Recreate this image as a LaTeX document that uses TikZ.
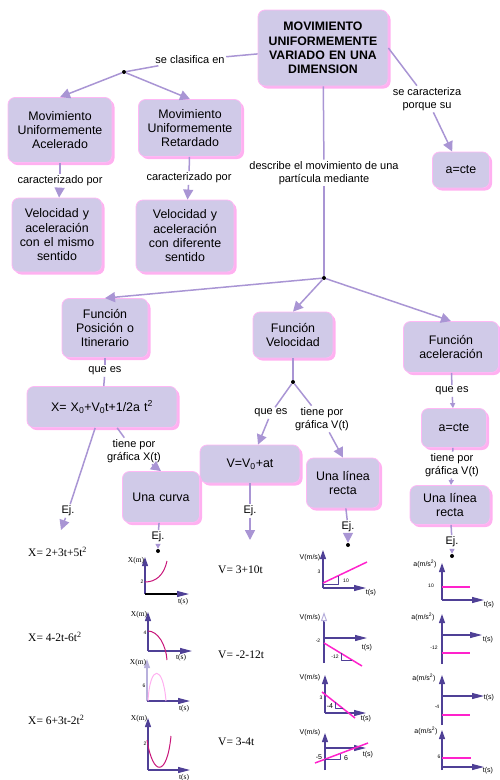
\documentclass[tikz,border=0pt]{standalone}
\usepackage{fontspec}
\setmainfont{Liberation Sans}
\newfontfamily\eqfont{Liberation Serif}
\usetikzlibrary{positioning, arrows.meta, shadows}

\definecolor{boxfill}{HTML}{D0CAE8}
\definecolor{pinkedge}{HTML}{FFB8F5}
\definecolor{pinkshadow}{HTML}{FFB0F0}
\definecolor{linkc}{HTML}{A995D4}
\definecolor{axisc}{HTML}{4F4096}
\definecolor{axislight}{HTML}{B8B0DC}
\definecolor{curvec}{HTML}{C8167A}
\definecolor{curvelight}{HTML}{FFB0F0}
\definecolor{magc}{HTML}{FF22CC}

\begin{document}
\begin{tikzpicture}[x=1pt, y=-1pt, line join=round]
    \tikzstyle{concept} = [rectangle, rounded corners=7pt, draw=pinkedge, line width=0.8pt, fill=boxfill, drop shadow={shadow xshift=2.5pt, shadow yshift=-2.5pt, fill=pinkshadow, opacity=1}, align=center, inner sep=2pt, font=\fontsize{12.4}{14.3}\selectfont]
    \tikzstyle{lbl} = [fill=white, inner sep=1.5pt, align=center, font=\fontsize{11}{13}\selectfont]
    \tikzstyle{conn} = [draw=linkc, line width=1.5pt]
    \tikzstyle{bigtip} = [-{Triangle[length=10pt, width=10pt]}]
    \tikzstyle{smalltip} = [-{Triangle[length=5pt, width=5pt]}]
    \tikzstyle{jdot} = [circle, fill=black, inner sep=0pt, minimum size=4pt]
    \tikzstyle{eq} = [anchor=west, inner sep=0pt, font=\eqfont\fontsize{11.5}{13}\selectfont]
    \tikzstyle{yax} = [draw=axisc, line width=1.2pt, -{Triangle[length=9pt, width=6pt]}]
    \tikzstyle{xax} = [draw=axisc, line width=1.2pt, -{Triangle[length=12pt, width=6pt]}]
    \tikzstyle{magline} = [draw=magc, line width=1.5pt]
    \tikzstyle{axlbl} = [inner sep=0pt, font=\fontsize{7}{8}\selectfont]
    \tikzstyle{axlbls} = [inner sep=0pt, font=\eqfont\fontsize{7.5}{8}\selectfont]
    \tikzstyle{tick} = [inner sep=0pt, font=\fontsize{5}{6}\selectfont]

    \useasboundingbox (0,0) rectangle (500,780);

    % Concepts (top)
    \node[concept, text width=126pt, minimum height=76pt, font=\bfseries\fontsize{12.3}{14.2}\selectfont] (main) at (323,48) {MOVIMIENTO\\UNIFORMEMENTE\\VARIADO EN UNA\\DIMENSION};
    \node[concept, text width=100pt, minimum height=65pt] (mua) at (60,130) {Movimiento\\Uniformemente\\Acelerado};
    \node[concept, text width=99pt, minimum height=57pt] (mur) at (190,128) {Movimiento\\Uniformemente\\Retardado};
    \node[concept, text width=53pt, minimum height=36pt] (acteA) at (461,170) {a=cte};
    \node[concept, text width=86pt, minimum height=74pt] (vya1) at (57,235) {Velocidad y\\aceleración\\con el mismo\\sentido};
    \node[concept, text width=94pt, minimum height=72pt] (vya2) at (185,236) {Velocidad y\\aceleración\\con diferente\\sentido};

    % Concepts (functions)
    \node[concept, text width=82pt, minimum height=59pt] (fpos) at (105,328) {Función\\Posición o\\Itinerario};
    \node[concept, text width=76pt, minimum height=46pt] (fvel) at (293,335) {Función\\Velocidad};
    \node[concept, text width=91pt, minimum height=51pt] (facel) at (451,347) {Función\\aceleración};
    \node[concept, text width=146pt, minimum height=41pt] (xeq) at (102,407) {X= X\textsubscript{0}+V\textsubscript{0}t+1/2a t\textsuperscript{2}};
    \node[concept, text width=96pt, minimum height=38pt] (vv0) at (250,464) {V=V\textsubscript{0}+at};
    \node[concept, text width=61pt, minimum height=39pt] (acteB) at (454,428) {a=cte};
    \node[concept, text width=73pt, minimum height=51pt] (curva) at (161,497) {Una curva};
    \node[concept, text width=69pt, minimum height=50pt] (recta1) at (343,483) {Una línea\\recta};
    \node[concept, text width=76pt, minimum height=39pt] (recta2) at (450,505) {Una línea\\recta};

    % Linking phrases
    \node[lbl] (lclas) at (190,60) {se clasifica en};
    \node[lbl] (lcarac) at (427,99) {se caracteriza\\porque su};
    \node[lbl] (ldesc) at (324,173) {describe el movimiento de una\\partícula mediante};
    \node[lbl] (lcar1) at (60,181) {caracterizado por};
    \node[lbl] (lcar2) at (189,178) {caracterizado por};
    \node[lbl] (lque1) at (105,371) {que es};
    \node[lbl] (ltiene1) at (134,451) {tiene por\\gráfica X(t)};
    \node[lbl] (lej1) at (68,511) {Ej.};
    \node[lbl] (lej2) at (158,537) {Ej.};
    \node[lbl] (lque2) at (271,413) {que es};
    \node[lbl] (ltiene2) at (322,419) {tiene por\\gráfica V(t)};
    \node[lbl] (lej3) at (250,511) {Ej.};
    \node[lbl] (lej4) at (348,527) {Ej.};
    \node[lbl] (lque3) at (452,391) {que es};
    \node[lbl] (ltiene3) at (452,465) {tiene por\\gráfica V(t)};
    \node[lbl] (lej5) at (452,542) {Ej.};

    % Junctions and free ends
    \node[jdot] (dot1) at (124,72) {};
    \node[jdot] (dot2) at (324,278) {};
    \node[jdot] (dot3) at (293,382) {};
    \node[jdot] (dotc) at (158,551) {};
    \node[jdot] (dotr1) at (348,545) {};
    \node[jdot] (dotr2) at (452,556) {};
    \coordinate (endej1) at (61,530);
    \coordinate (endej3) at (250,540);

    % Connectors
    \draw[conn] (main) -- (lclas);
    \draw[conn] (lclas) -- (dot1);
    \draw[conn, bigtip] (dot1) -- (mua.north);
    \draw[conn, bigtip] (dot1) -- (mur.north);
    \draw[conn] (main.east) -- (lcarac);
    \draw[conn, bigtip] (lcarac) -- (acteA);
    \draw[conn] (main) -- (ldesc);
    \draw[conn] (ldesc) -- (dot2);
    \draw[conn, bigtip] (dot2) -- (fpos.north);
    \draw[conn, bigtip] (dot2) -- (fvel.north);
    \draw[conn, bigtip] (dot2) -- (facel.north);
    \draw[conn] (mua) -- (lcar1);
    \draw[conn, bigtip] (lcar1) -- (vya1);
    \draw[conn] (mur) -- (lcar2);
    \draw[conn, bigtip] (lcar2) -- (vya2);
    \draw[conn] (fpos) -- (lque1);
    \draw[conn] (lque1) -- (xeq);
    \draw[conn] (xeq) -- (ltiene1);
    \draw[conn, bigtip] (ltiene1) -- (curva.north);
    \draw[conn] (xeq) -- (lej1);
    \draw[conn, bigtip] (lej1) -- (endej1);
    \draw[conn] (curva) -- (lej2);
    \draw[conn, smalltip] (lej2) -- (dotc);
    \draw[conn] (fvel) -- (dot3);
    \draw[conn] (dot3) -- (lque2);
    \draw[conn, bigtip] (lque2) -- (vv0);
    \draw[conn] (dot3) -- (ltiene2);
    \draw[conn, bigtip] (ltiene2) -- (recta1.north);
    \draw[conn] (vv0) -- (lej3);
    \draw[conn, bigtip] (lej3) -- (endej3);
    \draw[conn] (recta1) -- (lej4);
    \draw[conn, bigtip] (lej4) -- (dotr1);
    \draw[conn] (facel) -- (lque3);
    \draw[conn, smalltip] (lque3) -- (acteB);
    \draw[conn] (acteB) -- (ltiene3);
    \draw[conn, smalltip] (ltiene3) -- (recta2);
    \draw[conn] (recta2) -- (lej5);
    \draw[conn, smalltip] (lej5) -- (dotr2);

    % Equations
    \node[eq] (ex1) at (28,552) {X= 2+3t+5t\textsuperscript{2}};
    \node[eq] (ex2) at (28,637) {X= 4-2t-6t\textsuperscript{2}};
    \node[eq] (ex3) at (28,720) {X= 6+3t-2t\textsuperscript{2}};
    \node[eq] (ev1) at (218,570) {V= 3+10t};
    \node[eq] (ev2) at (218,655) {V= -2-12t};
    \node[eq] (ev3) at (218,742) {V= 3-4t};

    % Position graphs
    \draw[yax] (145,594) -- (145,557);
    \draw[line width=1.2pt, -{Triangle[length=12pt, width=6pt, color=axisc]}] (145,594) -- (189,594);
    \draw[curvec, line width=1pt] (145,582) .. controls (156,582) and (164,575) .. (167,561);
    \node[axlbls] (gx1y) at (136,561) {X(m)};
    \node[tick] (gx1v) at (142,582) {2};
    \node[axlbls] (gx1t) at (183,602) {t(s)};

    \draw[yax] (148,651) -- (148,612);
    \draw[xax] (148,651) -- (192,651);
    \draw[curvec, line width=1pt] (148,631) .. controls (158,631) and (166,645) .. (167,660);
    \node[axlbls] (gx2y) at (139,615) {X(m)};
    \node[tick] (gx2v) at (145,633) {4};
    \node[axlbls] (gx2t) at (181,658) {t(s)};

    \draw[draw=axislight, line width=1.2pt, -{Triangle[length=9pt, width=6pt]}] (147,701) -- (147,659);
    \draw[xax] (147,701) -- (190,701);
    \draw[curvelight, line width=1pt] (148,701) .. controls (150,664) and (163,664) .. (166,701);
    \node[axlbls] (gx3y) at (138,663) {X(m)};
    \node[tick] (gx3v) at (144,686) {6};
    \node[axlbls] (gx3t) at (184,709) {t(s)};

    \draw[yax] (148,770) -- (148,718);
    \draw[xax] (148,770) -- (190,770);
    \draw[curvec, line width=1pt] (147,740) .. controls (153,777) and (167,777) .. (171,736);
    \node[axlbls] (gx4y) at (139,719) {X(m)};
    \node[tick] (gx4v) at (145,744) {2};
    \node[axlbls] (gx4t) at (184,778) {t(s)};

    % Velocity graphs
    \draw[yax] (323,588) -- (323,550);
    \draw[xax] (323,588) -- (366,588);
    \draw[magline] (323,583) -- (367,562);
    \draw[axisc, line width=0.9pt] (324,584) -- (338,584) -- (338,576);
    \node[axlbl] (gv1y) at (310,558) {V(m/s)};
    \node[tick] (gv1v) at (319,572) {3};
    \node[tick] (gv1s) at (346,581) {10};
    \node[axlbl] (gv1t) at (371,593) {t(s)};

    \draw[axisc, line width=1.2pt] (324,663) -- (324,621);
    \draw[draw=axislight, line width=1pt, -{Triangle[open, length=9pt, width=6pt]}] (324,622) -- (324,612);
    \draw[xax] (324,638) -- (367,638);
    \draw[magline] (324,643) -- (362,666);
    \draw[axisc, line width=0.9pt] (341,653) -- (341,660) -- (352,660);
    \node[axlbl] (gv2y) at (310,618) {V(m/s)};
    \node[tick] (gv2v) at (318,641) {-2};
    \node[tick] (gv2s) at (335,657) {-12};
    \node[axlbl] (gv2t) at (367,648) {t(s)};

    \draw[yax] (325,713) -- (325,675);
    \draw[xax] (325,713) -- (366,713);
    \draw[magline] (322,692) -- (355,718);
    \draw[axisc, line width=0.9pt] (335,702) -- (335,708) -- (343,708);
    \node[axlbl] (gv3y) at (310,678) {V(m/s)};
    \node[tick] (gv3v) at (321,698) {3};
    \node[axlbl] (gv3s) at (330,706) {-4};
    \node[axlbl] (gv3t) at (366,719) {t(s)};

    \draw[yax] (325,770) -- (325,733);
    \draw[xax] (325,748) -- (366,748);
    \draw[magline] (315,763) -- (368,743);
    \draw[axisc, line width=0.9pt] (325,759) -- (340,759) -- (340,754);
    \node[axlbl] (gv4y) at (310,733) {V(m/s)};
    \node[axlbl] (gv4v) at (319,757) {-5};
    \node[axlbl] (gv4s) at (346,758) {6};
    \node[axlbl] (gv4t) at (368,755) {t(s)};

    % Acceleration graphs
    \draw[yax] (442,600) -- (442,563);
    \draw[xax] (442,600) -- (484,600);
    \draw[magline] (442,587) -- (470,587);
    \node[axlbl] (ga1y) at (425,564) {a(m/s\textsuperscript{2})};
    \node[tick] (ga1v) at (431,586) {10};
    \node[axlbl] (ga1t) at (489,605) {t(s)};

    \draw[yax] (442,664) -- (442,614);
    \draw[xax] (442,635) -- (482,635);
    \draw[magline] (442,653) -- (470,653);
    \node[axlbl] (ga2y) at (423,617) {a(m/s\textsuperscript{2})};
    \node[tick] (ga2v) at (434,648) {-12};
    \node[axlbl] (ga2t) at (488,640) {t(s)};

    \draw[yax] (442,725) -- (442,675);
    \draw[xax] (442,696) -- (484,696);
    \draw[magline] (442,715) -- (470,715);
    \node[axlbl] (ga3y) at (424,678) {a(m/s\textsuperscript{2})};
    \node[tick] (ga3v) at (437,707) {-4};
    \node[axlbl] (ga3t) at (489,698) {t(s)};

    \draw[yax] (442,770) -- (442,730);
    \draw[xax] (442,767) -- (484,767);
    \draw[magline] (442,758) -- (471,758);
    \node[axlbl] (ga4y) at (426,731) {a(m/s\textsuperscript{2})};
    \node[tick] (ga4v) at (439,757) {6};
    \node[axlbl] (ga4t) at (488,771) {t(s)};
\end{tikzpicture}
\end{document}
